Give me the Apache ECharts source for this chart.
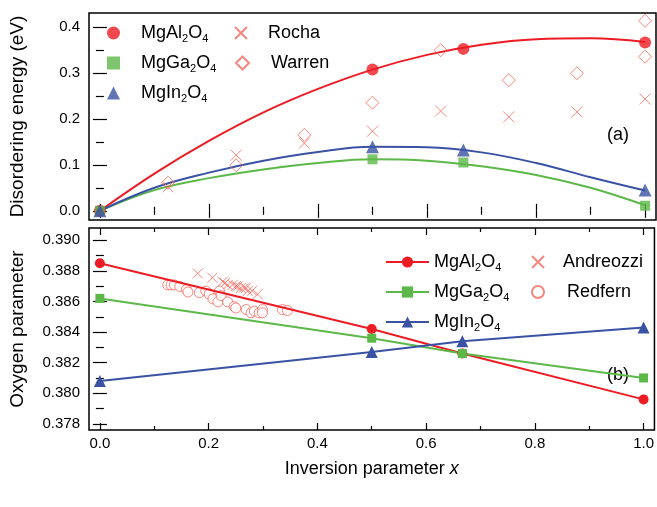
<!DOCTYPE html>
<html><head><meta charset="utf-8">
<script src="https://cdn.jsdelivr.net/npm/echarts@6/dist/echarts.min.js"></script>
<style>html,body{margin:0;padding:0;background:#fff}#c{width:657px;height:507px}</style>
</head><body><div id="c"></div>
<script>
// ---------- data ----------
const xTickMajor = [0, 0.2, 0.4, 0.6, 0.8, 1.0];
const xTickMinor = [0.1, 0.3, 0.5, 0.7, 0.9];
const eTickMajor = [0, 0.1, 0.2, 0.3, 0.4];
const eTickMinor = [0.05, 0.15, 0.25, 0.35];
const uTickMajor = [0.378, 0.380, 0.382, 0.384, 0.386, 0.388, 0.390];
const uTickMinor = [0.379, 0.381, 0.383, 0.385, 0.387, 0.389];

// top panel: disordering energy
const xCalc = [0, 0.5, 0.6667, 1.0];
const alEnergy = [0, 0.307, 0.352, 0.366];
const gaEnergy = [0, 0.112, 0.105, 0.011];
const inEnergy = [0, 0.139, 0.132, 0.045];
const xCurve = [0, 0.1, 0.2, 0.3, 0.4, 0.5, 0.6, 0.7, 0.8, 0.9, 1.0];
const alCurve = [0, 0.081, 0.152, 0.214, 0.265, 0.307, 0.339, 0.361, 0.373, 0.375, 0.367];
const gaCurve = [0, 0.045, 0.071, 0.090, 0.104, 0.112, 0.109, 0.097, 0.078, 0.050, 0.012];
const inCurve = [0, 0.050, 0.083, 0.109, 0.128, 0.139, 0.138, 0.127, 0.104, 0.073, 0.044];
const rochaX = [0.125, 0.25, 0.375, 0.5, 0.625, 0.75, 0.875, 1.0];
const rochaE = [0.052, 0.121, 0.147, 0.173, 0.217, 0.204, 0.215, 0.243];
const warrenX = [0.125, 0.25, 0.375, 0.5, 0.625, 0.75, 0.875, 1.0, 1.0];
const warrenE = [0.061, 0.099, 0.165, 0.235, 0.349, 0.284, 0.299, 0.335, 0.413];

// bottom panel: oxygen parameter
const alU = [0.3885, 0.3842, 0.3826, 0.3796];
const gaU = [0.3862, 0.3836, 0.3826, 0.3810];
const inU = [0.3808, 0.3827, 0.3834, 0.3843];
const andreozziX = [0.180, 0.207, 0.226, 0.230, 0.235, 0.244, 0.250, 0.253, 0.259, 0.265, 0.269, 0.272, 0.280, 0.290];
const andreozziU = [0.38783, 0.38755, 0.38729, 0.38720, 0.38708, 0.38708, 0.38700, 0.38698, 0.38688, 0.38690, 0.38688, 0.38668, 0.38670, 0.38648];
const redfernX = [0.125, 0.131, 0.137, 0.147, 0.159, 0.162, 0.183, 0.195, 0.201, 0.208, 0.217, 0.220, 0.223, 0.235, 0.247, 0.250, 0.269, 0.278, 0.284, 0.293, 0.299, 0.299, 0.336, 0.345];
const redfernU = [0.38708, 0.38708, 0.38708, 0.38698, 0.38678, 0.38662, 0.38658, 0.38668, 0.38648, 0.38617, 0.38597, 0.38668, 0.38638, 0.38597, 0.38567, 0.38557, 0.38547, 0.38526, 0.38537, 0.38526, 0.38547, 0.38526, 0.38547, 0.38541];

// ---------- style ----------
const FONT = 'Liberation Sans';
const RED = '#ec1c24', GREEN = '#5cb848', BLUE = '#3a52a4', LRED = '#f2695e';
const CROSS = 'path://M0,0L10,10M0,10L10,0';
const zip = (xs, ys) => xs.map((x, i) => [x, ys[i]]);

const names = {
  MgAl2O4: '{t|MgAl}{s|2}{t|O}{s|4}',
  MgGa2O4: '{t|MgGa}{s|2}{t|O}{s|4}',
  MgIn2O4: '{t|MgIn}{s|2}{t|O}{s|4}'
};
const gaps = { 'a:MgAl2O4': 16, 'a:MgGa2O4': 16, 'a:MgIn2O4': 16, 'a:Rocha': 16, 'a:Warren': 19, 'b:Andreozzi': 14, 'b:Redfern': 18 };
const fmtName = n => {
  const k = n.replace(/^[ab]:/, '');
  const g = gaps[n] ? '{g|}' : '';
  return g + (names[k] || ('{t|' + k + '}'));
};
const legendText = {
  color: '#000', fontFamily: FONT, fontSize: 18,
  rich: {
    t: { fontFamily: FONT, fontSize: 18, color: '#000' },
    s: { fontFamily: FONT, fontSize: 11, color: '#000', padding: [11, 0, 0, 0] },
    g: { width: 16 }
  }
};
function legendTextWithGap(n) {
  const t = JSON.parse(JSON.stringify(legendText));
  t.rich.g.width = n;
  return t;
}

const grids = [
  { left: 89, top: 13, width: 567, height: 207 },
  { left: 89, top: 228, width: 567, height: 202 }
];
grids.forEach(g => { g.show = true; g.borderColor = '#000'; g.borderWidth = 1.5; g.backgroundColor = 'transparent'; });

function tickAxis(gi, pos, min, max, vals, len, labelVals, fmt, extra) {
  const a = {
    type: 'value', gridIndex: gi, position: pos, min: min, max: max,
    axisLine: { show: false }, splitLine: { show: false },
    axisTick: { show: true, inside: true, length: len, customValues: vals, lineStyle: { color: '#000', width: 1.2 } },
    axisLabel: labelVals ? { show: true, customValues: labelVals, formatter: fmt, fontFamily: FONT, fontSize: 15, color: '#000', margin: pos === 'left' ? 9 : 6 } : { show: false }
  };
  return Object.assign(a, extra || {});
}
const f1 = v => v.toFixed(1), f3 = v => v.toFixed(3);
const XMIN = -0.02, XMAX = 1.02;
const EMIN = -0.02, EMAX = 0.43;
const UMIN = 0.3776, UMAX = 0.3908;

const xAxes = [
  tickAxis(0, 'bottom', XMIN, XMAX, xTickMajor, 7, null),
  tickAxis(0, 'bottom', XMIN, XMAX, xTickMinor, 4, null),
  tickAxis(0, 'top', XMIN, XMAX, xTickMajor, 7, null),
  tickAxis(0, 'top', XMIN, XMAX, xTickMinor, 4, null),
  tickAxis(1, 'bottom', XMIN, XMAX, xTickMajor, 7, xTickMajor, f1, {
    name: '{n|Inversion parameter }{i|x}', nameLocation: 'middle', nameGap: 30,
    nameTextStyle: { fontFamily: FONT, fontSize: 18, color: '#000', rich: { n: { fontFamily: FONT, fontSize: 18, color: '#000' }, i: { fontFamily: FONT, fontSize: 18, fontStyle: 'italic', color: '#000' } } }
  }),
  tickAxis(1, 'bottom', XMIN, XMAX, xTickMinor, 4, null),
  tickAxis(1, 'top', XMIN, XMAX, xTickMajor, 7, null),
  tickAxis(1, 'top', XMIN, XMAX, xTickMinor, 4, null)
];
const yName = { fontFamily: FONT, fontSize: 19, color: '#000' };
const yAxes = [
  tickAxis(0, 'left', EMIN, EMAX, eTickMajor, 7, eTickMajor, f1, { name: 'Disordering energy (eV)', nameLocation: 'middle', nameGap: 62, nameTextStyle: yName }),
  tickAxis(0, 'left', EMIN, EMAX, eTickMinor, 4, null),
  tickAxis(0, 'right', EMIN, EMAX, eTickMajor, 7, null),
  tickAxis(0, 'right', EMIN, EMAX, eTickMinor, 4, null),
  tickAxis(1, 'left', UMIN, UMAX, uTickMajor, 7, uTickMajor, f3, { name: 'Oxygen parameter', nameLocation: 'middle', nameGap: 62, nameTextStyle: yName }),
  tickAxis(1, 'left', UMIN, UMAX, uTickMinor, 4, null),
  tickAxis(1, 'right', UMIN, UMAX, uTickMajor, 7, null),
  tickAxis(1, 'right', UMIN, UMAX, uTickMinor, 4, null)
];

const topS = (s) => Object.assign({ xAxisIndex: 0, yAxisIndex: 0 }, s);
const botS = (s) => Object.assign({ xAxisIndex: 4, yAxisIndex: 4 }, s);

const seriesList = [
  // top curves
  topS({ type: 'line', name: 'curveAl', data: zip(xCurve, alCurve), smooth: 0.4, showSymbol: false, lineStyle: { color: RED, width: 2 }, itemStyle: { color: RED }, z: 2, silent: true }),
  topS({ type: 'line', name: 'curveGa', data: zip(xCurve, gaCurve), smooth: 0.4, showSymbol: false, lineStyle: { color: GREEN, width: 2 }, itemStyle: { color: GREEN }, z: 2, silent: true }),
  topS({ type: 'line', name: 'curveIn', data: zip(xCurve, inCurve), smooth: 0.4, showSymbol: false, lineStyle: { color: BLUE, width: 2 }, itemStyle: { color: BLUE }, z: 2, silent: true }),
  // top literature
  topS({ type: 'scatter', name: 'a:Rocha', data: zip(rochaX, rochaE), symbol: CROSS, symbolSize: 11, itemStyle: { color: 'rgba(0,0,0,0)', borderColor: LRED, borderWidth: 1 }, z: 3 }),
  topS({ type: 'scatter', name: 'a:Warren', data: zip(warrenX, warrenE), symbol: 'diamond', symbolSize: 13, itemStyle: { color: 'rgba(0,0,0,0)', borderColor: LRED, borderWidth: 1 }, z: 3 }),
  // top calc points
  topS({ type: 'scatter', name: 'a:MgAl2O4', data: zip(xCalc, alEnergy), symbol: 'circle', symbolSize: 12, itemStyle: { color: RED }, z: 4 }),
  topS({ type: 'scatter', name: 'a:MgGa2O4', data: zip(xCalc, gaEnergy), symbol: 'rect', symbolSize: 10, itemStyle: { color: GREEN }, z: 4 }),
  topS({ type: 'scatter', name: 'a:MgIn2O4', data: zip(xCalc, inEnergy), symbol: 'triangle', symbolSize: 13, itemStyle: { color: BLUE }, z: 4 }),
  // bottom literature
  botS({ type: 'scatter', name: 'b:Andreozzi', data: zip(andreozziX, andreozziU), symbol: CROSS, symbolSize: 10, itemStyle: { color: 'rgba(0,0,0,0)', borderColor: LRED, borderWidth: 1 }, z: 3 }),
  botS({ type: 'scatter', name: 'b:Redfern', data: zip(redfernX, redfernU), symbol: 'circle', symbolSize: 10, itemStyle: { color: '#fff', borderColor: LRED, borderWidth: 1 }, z: 3 }),
  // bottom calc lines
  botS({ type: 'line', name: 'b:MgAl2O4', data: zip(xCalc, alU), symbol: 'circle', symbolSize: 10, showSymbol: true, lineStyle: { color: RED, width: 2 }, itemStyle: { color: RED }, z: 4 }),
  botS({ type: 'line', name: 'b:MgGa2O4', data: zip(xCalc, gaU), symbol: 'rect', symbolSize: 9, showSymbol: true, lineStyle: { color: GREEN, width: 2 }, itemStyle: { color: GREEN }, z: 4 }),
  botS({ type: 'line', name: 'b:MgIn2O4', data: zip(xCalc, inU), symbol: 'triangle', symbolSize: 12, showSymbol: true, lineStyle: { color: BLUE, width: 2 }, itemStyle: { color: BLUE }, z: 4 })
];

const legBase = { orient: 'vertical', formatter: fmtName, selectedMode: false, padding: 0 };
const legends = [
  Object.assign({}, legBase, { data: ['a:MgAl2O4', 'a:MgGa2O4', 'a:MgIn2O4'], textStyle: legendTextWithGap(16), left: 107, top: 24, itemWidth: 13, itemHeight: 13, itemGap: 10 }),
  Object.assign({}, legBase, { data: ['a:Rocha'], textStyle: legendTextWithGap(16), left: 234, top: 24, itemWidth: 12, itemHeight: 12, itemGap: 10 }),
  Object.assign({}, legBase, { data: ['a:Warren'], textStyle: legendTextWithGap(17), left: 235, top: 54, itemWidth: 13, itemHeight: 13, itemGap: 10 }),
  Object.assign({}, legBase, { data: ['b:MgAl2O4', 'b:MgGa2O4', 'b:MgIn2O4'], textStyle: legendTextWithGap(0), formatter: n => names[n.replace(/^[ab]:/, '')], left: 385, top: 253, itemWidth: 43, itemHeight: 14, itemGap: 10 }),
  Object.assign({}, legBase, { data: ['b:Andreozzi'], textStyle: legendTextWithGap(14), left: 531, top: 253, itemWidth: 12, itemHeight: 12, itemGap: 10 }),
  Object.assign({}, legBase, { data: ['b:Redfern'], textStyle: legendTextWithGap(18), left: 531, top: 283, itemWidth: 12, itemHeight: 12, itemGap: 10 })
];

const chart = echarts.init(document.getElementById('c'), null, { renderer: 'canvas' });
chart.setOption({
  animation: false,
  backgroundColor: '#fff',
  grid: grids,
  xAxis: xAxes,
  yAxis: yAxes,
  legend: legends,
  series: seriesList,
  graphic: [
    { type: 'text', left: 607, top: 126, style: { text: '(a)', fontFamily: FONT, fontSize: 18, fill: '#000' } },
    { type: 'text', left: 607, top: 366, style: { text: '(b)', fontFamily: FONT, fontSize: 18, fill: '#000' } }
  ]
});
</script></body></html>
